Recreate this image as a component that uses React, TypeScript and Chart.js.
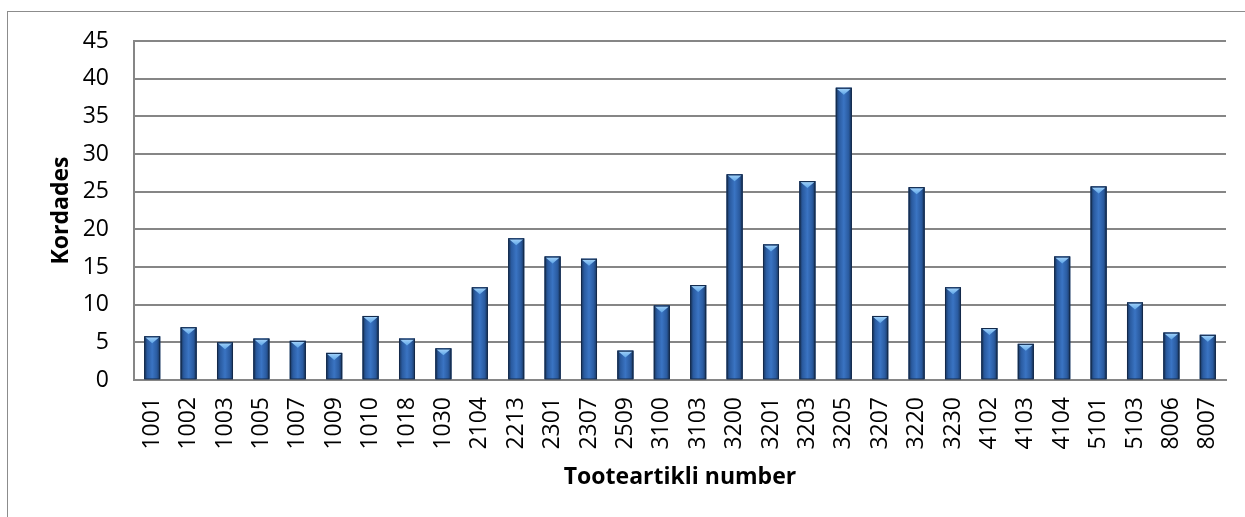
import React, { useEffect, useRef } from "react";
import { Chart, registerables } from "chart.js";

Chart.register(...registerables);

const categories = [
  "1001", "1002", "1003", "1005", "1007", "1009", "1010", "1018", "1030", "2104",
  "2213", "2301", "2307", "2509", "3100", "3103", "3200", "3201", "3203", "3205",
  "3207", "3220", "3230", "4102", "4103", "4104", "5101", "5103", "8006", "8007",
];

const kordades = [
  5.8, 7.0, 5.0, 5.5, 5.2, 3.6, 8.5, 5.5, 4.2, 12.3,
  18.8, 16.4, 16.1, 3.9, 9.9, 12.6, 27.3, 18.0, 26.4, 38.8,
  8.5, 25.6, 12.3, 6.9, 4.8, 16.4, 25.7, 10.3, 6.3, 6.0,
];

const yTitle = "Kordades";
const xTitle = "Tooteartikli number";

const FONT = "'Open Sans', 'Noto Sans', sans-serif";

const bevelPlugin = {
  id: "bevel",
  afterDatasetsDraw(chart: any) {
    const ctx = chart.ctx;
    const meta = chart.getDatasetMeta(0);
    meta.data.forEach((bar: any) => {
      const { x, y, width, base } = bar.getProps(["x", "y", "width", "base"], true);
      const l = x - width / 2;
      const r = x + width / 2;
      ctx.save();
      const g = ctx.createLinearGradient(l, 0, r, 0);
      g.addColorStop(0, "#173156");
      g.addColorStop(0.2, "#2a5ba0");
      g.addColorStop(0.5, "#3a74c3");
      g.addColorStop(0.8, "#2a5ba0");
      g.addColorStop(1, "#173156");
      ctx.fillStyle = g;
      ctx.fillRect(l, y, width, base - y);
      const th = Math.min(6, (base - y) / 2);
      const tg = ctx.createLinearGradient(0, y, 0, y + th);
      tg.addColorStop(0, "#a9d6fb");
      tg.addColorStop(1, "#68acea");
      ctx.fillStyle = tg;
      ctx.beginPath();
      ctx.moveTo(l + 1, y + 1);
      ctx.lineTo(r - 1, y + 1);
      ctx.lineTo(x, y + th + 1);
      ctx.closePath();
      ctx.fill();
      ctx.strokeStyle = "#142a4a";
      ctx.lineWidth = 1;
      ctx.strokeRect(l + 0.5, y + 0.5, width - 1, base - y - 0.5);
      ctx.restore();
    });
  },
};

export default function App() {
  const canvasRef = useRef<HTMLCanvasElement>(null);

  useEffect(() => {
    if (!canvasRef.current) return;
    const chart = new Chart(canvasRef.current, {
      type: "bar",
      data: {
        labels: categories,
        datasets: [
          {
            label: yTitle,
            data: kordades,
            backgroundColor: "#2f64ad",
            borderWidth: 0,
            categoryPercentage: 1,
            barPercentage: 0.44,
          },
        ],
      },
      options: {
        animation: false,
        responsive: false,
        maintainAspectRatio: false,
        layout: { padding: { left: 44, top: 41, right: 19, bottom: 22 } },
        plugins: {
          legend: { display: false },
          tooltip: { enabled: false },
        },
        scales: {
          x: {
            grid: { display: false, drawTicks: false, tickLength: 0 },
            border: { display: true, color: "#868686", width: 2 },
            ticks: {
              color: "#000",
              font: { family: FONT, size: 23 },
              minRotation: 90,
              maxRotation: 90,
              autoSkip: false,
              padding: 17,
            },
            title: {
              display: true,
              text: xTitle,
              color: "#000",
              font: { family: FONT, size: 23, weight: "bold" },
              padding: { top: 4, bottom: 4 },
            },
            afterFit(scale: any) {
              scale.height = 115;
              scale.paddingLeft = 0;
              scale.paddingRight = 0;
            },
          },
          y: {
            min: 0,
            max: 45,
            ticks: {
              stepSize: 5,
              color: "#000",
              font: { family: FONT, size: 23 },
              padding: 25,
            },
            grid: { color: "#868686", lineWidth: 2, drawTicks: false, tickLength: 0 },
            border: { display: true, color: "#868686", width: 2 },
            title: {
              display: true,
              text: yTitle,
              color: "#000",
              font: { family: FONT, size: 23, weight: "bold" },
              padding: { top: 4, bottom: 4 },
            },
            afterFit(scale: any) {
              scale.width = 90;
            },
          },
        },
      },
      plugins: [bevelPlugin],
    });
    return () => chart.destroy();
  }, []);

  return (
    <div style={{ position: "fixed", left: 0, top: 0, width: 1245, height: 517, overflow: "hidden", background: "#fff" }}>
      <div
        style={{
          position: "absolute",
          left: 7,
          top: 11,
          width: 1300,
          height: 600,
          border: "1px solid #8c8c8c",
          boxSizing: "border-box",
        }}
      />
      <canvas
        ref={canvasRef}
        width={1245}
        height={517}
        style={{ position: "absolute", left: 0, top: 0, width: 1245, height: 517 }}
      />
    </div>
  );
}
